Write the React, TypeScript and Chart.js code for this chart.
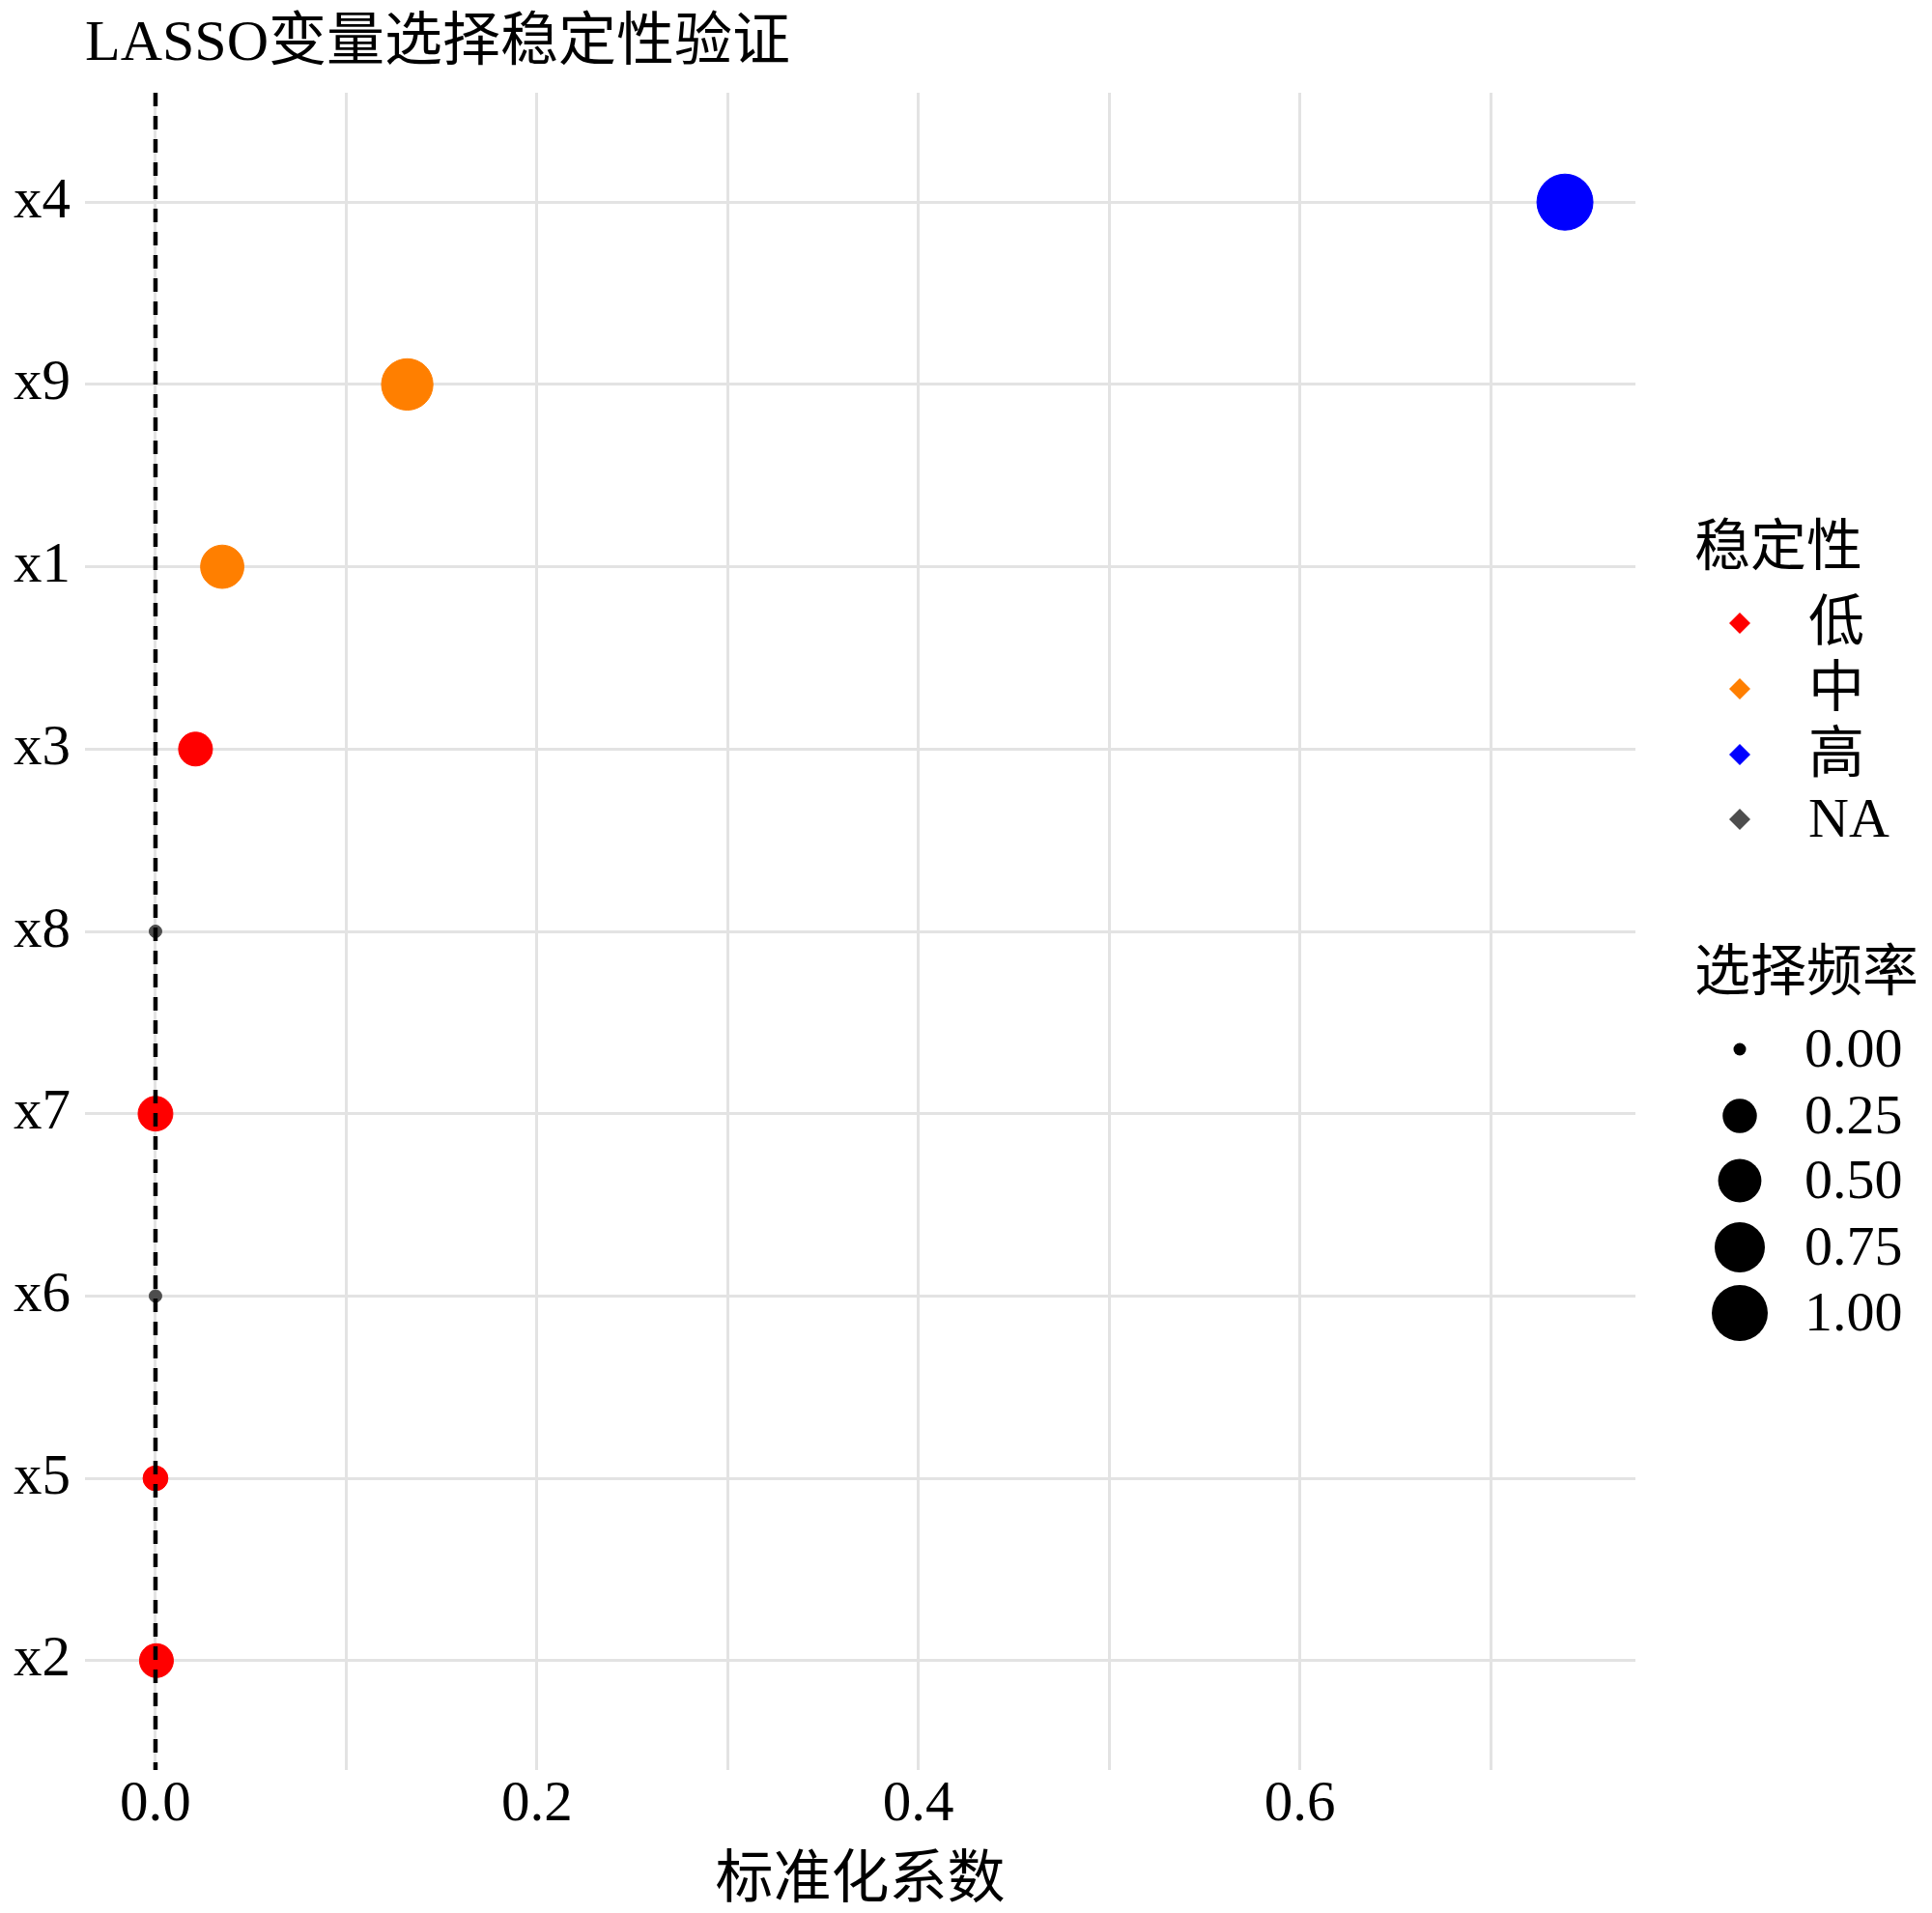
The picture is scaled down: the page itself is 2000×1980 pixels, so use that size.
import React, { useEffect, useRef } from "react";
import { Chart, registerables } from "chart.js";

Chart.register(...registerables);

// ---- data (top to bottom as displayed) ----
const categories = ["x4", "x9", "x1", "x3", "x8", "x7", "x6", "x5", "x2"];
const coefficients = [0.739, 0.132, 0.035, 0.021, 0.0, 0.0, 0.0, 0.0, 0.0005];
const frequencies = [1.0, 0.8, 0.5, 0.24, 0.0, 0.26, 0.0, 0.08, 0.24];
const stability = ["高", "中", "中", "低", "NA", "低", "NA", "低", "低"];

const stabilityLevels = ["低", "中", "高", "NA"];
const stabilityColors = ["#FF0000", "#FF7F00", "#0000FF", "#4D4D4D"];
const freqBreaks = [0, 0.25, 0.5, 0.75, 1.0];
const freqBreakLabels = ["0.00", "0.25", "0.50", "0.75", "1.00"];
const xGridTicks = [0, 0.1, 0.2, 0.3, 0.4, 0.5, 0.6, 0.7];
const xLabelTicks = [0, 0.2, 0.4, 0.6];

const titleText = "LASSO变量选择稳定性验证";
const xTitleText = "标准化系数";
const legendStabilityTitle = "稳定性";
const legendFreqTitle = "选择频率";

const FONT = '"Liberation Serif", "Noto Sans CJK SC", serif';

const sizeFor = (f: number) => 6.5 + 22.5 * Math.sqrt(f);

const legendPlugin = {
  id: "customLegendAndZero",
  afterDatasetsDraw(chart: any) {
    const { ctx, chartArea, scales } = chart;
    const x0 = scales.x.getPixelForValue(0);
    ctx.save();
    ctx.strokeStyle = "#000";
    ctx.lineWidth = 4.5;
    ctx.setLineDash([14, 10]);
    ctx.beginPath();
    ctx.moveTo(x0, chartArea.top);
    ctx.lineTo(x0, chartArea.bottom);
    ctx.stroke();
    ctx.restore();
  },
  afterDraw(chart: any) {
    const { ctx } = chart;
    ctx.save();
    ctx.fillStyle = "#000";
    ctx.textBaseline = "middle";
    ctx.textAlign = "left";
    ctx.font = `58px ${FONT}`;
    ctx.fillText(legendStabilityTitle, 1754, 570);
    const keyX = 1801;
    const labelX = 1872;
    const stabY = [645, 713, 781, 848];
    stabilityLevels.forEach((lvl, i) => {
      const y = stabY[i];
      const r = 11;
      ctx.fillStyle = stabilityColors[i];
      ctx.beginPath();
      ctx.moveTo(keyX, y - r);
      ctx.lineTo(keyX + r, y);
      ctx.lineTo(keyX, y + r);
      ctx.lineTo(keyX - r, y);
      ctx.closePath();
      ctx.fill();
      ctx.fillStyle = "#000";
      ctx.fillText(lvl, labelX, y + 3);
    });
    ctx.fillText(legendFreqTitle, 1754, 1010);
    const freqY = [1086, 1155, 1222, 1291, 1359];
    freqBreaks.forEach((b, i) => {
      const y = freqY[i];
      ctx.fillStyle = "#000";
      ctx.beginPath();
      ctx.arc(keyX, y, sizeFor(b), 0, Math.PI * 2);
      ctx.fill();
      ctx.fillText(freqBreakLabels[i], labelX - 4, y + 3);
    });
    ctx.restore();
  },
};

export default function App() {
  const canvasRef = useRef<HTMLCanvasElement | null>(null);

  useEffect(() => {
    if (!canvasRef.current) return;
    const minC = Math.min(...coefficients);
    const maxC = Math.max(...coefficients);
    const span = maxC - minC;
    const n = categories.length;

    const datasets = stabilityLevels.map((lvl, li) => {
      const idx = categories.map((_, i) => i).filter((i) => stability[i] === lvl);
      return {
        label: lvl,
        data: idx.map((i) => ({ x: coefficients[i], y: i })),
        pointRadius: idx.map((i) => sizeFor(frequencies[i])),
        pointHoverRadius: idx.map((i) => sizeFor(frequencies[i])),
        backgroundColor: stabilityColors[li],
        borderColor: stabilityColors[li],
        pointBorderWidth: 1,
        showLine: false,
      };
    });

    const chart = new Chart(canvasRef.current, {
      type: "scatter",
      data: { datasets },
      plugins: [legendPlugin],
      options: {
        animation: false,
        responsive: false,
        devicePixelRatio: 1,
        layout: { padding: { left: 0, top: 0, right: 307, bottom: 0 } },
        plugins: {
          legend: { display: false },
          tooltip: { enabled: false },
          title: {
            display: true,
            text: titleText,
            align: "start",
            fullSize: false,
            color: "#000",
            font: { family: FONT, size: 60, weight: "normal", lineHeight: 1.2 },
            padding: { top: 10, bottom: 14 },
          },
        },
        scales: {
          x: {
            type: "linear",
            min: minC - 0.05 * span,
            max: maxC + 0.05 * span,
            afterBuildTicks: (scale: any) => {
              scale.ticks = xGridTicks.map((v) => ({ value: v }));
            },
            afterFit: (scale: any) => {
              scale.height = 148;
            },
            grid: { color: "#E3E3E3", lineWidth: 3, drawTicks: false },
            border: { display: false },
            ticks: {
              padding: 7,
              color: "#000",
              maxRotation: 0,
              autoSkip: false,
              font: { family: FONT, size: 59, lineHeight: 1 },
              callback: (v: any) => {
                const val = Number(v);
                return xLabelTicks.some((t) => Math.abs(t - val) < 1e-9) ? val.toFixed(1) : "";
              },
            },
            title: {
              display: true,
              text: xTitleText,
              color: "#000",
              font: { family: FONT, size: 60, lineHeight: 1 },
              padding: { top: 0, bottom: 2 },
            },
          },
          y: {
            type: "linear",
            reverse: true,
            min: -0.6,
            max: n - 1 + 0.6,
            afterBuildTicks: (scale: any) => {
              scale.ticks = categories.map((_, i) => ({ value: i }));
            },
            afterFit: (scale: any) => {
              scale.width = 88;
            },
            grid: { color: "#E3E3E3", lineWidth: 3, drawTicks: false },
            border: { display: false },
            ticks: {
              padding: 15,
              color: "#000",
              autoSkip: false,
              font: { family: FONT, size: 59, lineHeight: 1 },
              callback: (v: any) => categories[Math.round(Number(v))] ?? "",
            },
          },
        },
      },
    } as any);

    return () => {
      chart.destroy();
    };
  }, []);

  return (
    <div style={{ position: "absolute", left: 0, top: 0, width: 2000, height: 1980, background: "#fff" }}>
      <canvas ref={canvasRef} width={2000} height={1980} style={{ width: 2000, height: 1980, display: "block" }} />
    </div>
  );
}
